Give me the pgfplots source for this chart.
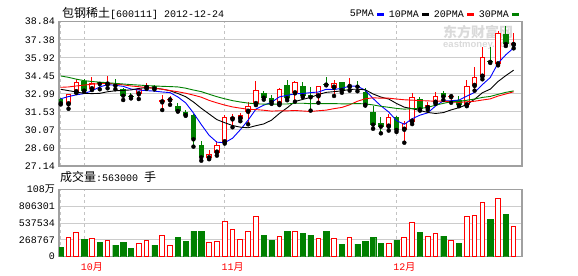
\documentclass[border=0pt]{standalone}
\usepackage{fontspec}
\setmainfont{Liberation Mono}
\newfontfamily\cjk{Noto Sans CJK SC}
\newfontfamily\wmfont{Liberation Sans}
\usepackage{pgfplots}
\usepackage{pgfplotstable}
\pgfplotsset{compat=1.18}
\definecolor{kgreen}{RGB}{0,128,0}
\definecolor{framec}{RGB}{160,160,160}
\definecolor{gridc}{RGB}{204,204,204}
\definecolor{dashc}{RGB}{195,195,195}
\definecolor{wm}{RGB}{218,218,218}
% rising days (red, hollow)
\pgfplotstableread{
i open high low close
1 32.14 32.98 31.78 32.95
2 33.12 34.22 33.06 33.93
4 33.36 34.33 33.30 33.84
6 33.74 34.44 33.44 33.89
10 32.95 33.45 32.57 33.36
11 33.46 33.84 33.40 33.65
13 32.30 32.89 31.68 32.49
14 32.46 32.82 32.10 32.51
19 27.76 28.44 27.69 28.11
20 28.22 29.17 27.98 28.82
21 29.06 31.27 28.96 31.09
22 30.92 31.35 30.28 31.11
23 30.97 31.46 30.77 31.25
24 31.53 32.33 30.52 32.02
25 32.16 34.05 32.08 33.28
28 32.16 33.45 32.08 33.36
30 33.03 34.04 32.36 33.95
33 32.79 33.65 32.27 33.61
35 33.49 34.11 32.82 33.84
37 33.55 34.25 33.25 33.60
42 30.33 31.33 30.01 31.11
44 30.08 30.82 29.03 30.65
45 30.73 33.03 30.54 32.71
47 31.82 32.36 31.69 32.08
48 32.27 33.17 32.18 32.79
50 32.72 32.98 32.27 32.77
52 32.06 34.11 31.99 33.63
53 33.63 35.19 33.25 34.33
54 34.38 36.75 34.17 35.96
56 35.38 38.11 35.30 37.90
58 36.95 37.90 36.68 37.09
}\uptab
% falling days (green, filled)
\pgfplotstableread{
i open high low close
0 32.54 32.62 32.13 32.22
3 34.06 34.18 33.16 33.25
5 33.93 33.96 33.36 33.79
7 33.79 34.19 33.36 33.65
8 33.36 33.45 32.49 32.84
9 32.82 33.06 32.62 32.77
12 33.65 33.74 33.35 33.43
15 32.01 32.27 31.55 31.60
16 31.52 31.69 31.21 31.27
17 31.27 31.35 28.71 29.30
18 28.82 29.17 27.57 27.84
26 33.06 33.26 32.52 32.68
27 32.65 32.89 32.18 32.33
29 33.70 34.11 32.47 32.63
31 33.63 33.95 32.72 32.82
32 32.89 33.57 31.63 32.71
34 33.79 34.38 33.68 33.74
36 33.95 33.99 33.08 33.30
38 33.65 34.04 33.20 33.57
39 33.17 33.44 32.04 32.11
40 31.52 32.01 30.16 30.49
41 30.63 31.14 29.79 30.33
43 31.09 31.16 29.90 30.06
46 32.60 32.76 31.63 31.73
49 33.08 33.25 32.49 32.76
51 32.49 32.82 31.99 32.06
55 35.67 36.75 35.50 35.58
57 37.84 38.49 36.87 37.03
}\dntab
\pgfplotsset{
  kpanel/.style={
    scale only axis, width=463bp,
    xmin=-0.22, xmax=59.07,
    axis line style={draw=framec, line width=1.4bp},
    tick style={draw=none},
    xmajorgrids, ymajorgrids,
    x grid style={draw=dashc, line width=0.9bp, dash pattern=on 3bp off 3bp},
    y grid style={draw=gridc, line width=0.9bp},
    yticklabel style={anchor=east, inner sep=0pt, xshift=-4bp, font=\fontsize{10bp}{10bp}\selectfont},
  },
  eb/.style={only marks, mark=none, forget plot,
    error bars/.cd, y dir=plus, y explicit, error mark=none,
    error bar style={#1}},
}
\begin{document}
\begin{tikzpicture}
\path[use as bounding box] (0,0) rectangle (578bp,276bp);
% watermark
\node[text=wm, anchor=west, inner sep=0pt, font=\cjk\bfseries\fontsize{14bp}{14bp}\selectfont] at (443bp,243.5bp) {东方财富网};
\node[text=wm, anchor=west, inner sep=0pt, font=\wmfont\bfseries\fontsize{9.5bp}{10bp}\selectfont] at (443bp,230.5bp) {eastmoney.com};
% titles
\node[anchor=west, inner sep=0pt] at (62bp,263bp) {{\cjk\fontsize{12bp}{12bp}\selectfont 包钢稀土}{\fontsize{10bp}{12bp}\selectfont [600111] 2012-12-24}};
\node[anchor=west, inner sep=0pt] at (60bp,99bp) {{\cjk\fontsize{12bp}{12bp}\selectfont 成交量}{\fontsize{10bp}{12bp}\selectfont :563000 }{\cjk\fontsize{12bp}{12bp}\selectfont 手}};

\begin{axis}[kpanel,
  at={(59bp,110bp)}, anchor=south west, height=144.3bp,
  ymin=27.14, ymax=38.84,
  ytick={27.14,28.60,30.07,31.53,32.99,34.45,35.92,37.38,38.84},
  yticklabels={27.14,28.60,30.07,31.53,32.99,34.45,35.92,37.38,38.84},
  xtick={0,3,21,43}, xticklabels={},
  legend style={at={(1,1)}, anchor=south east, draw=none, fill=none, inner sep=0pt,
    font=\fontsize{10bp}{12bp}\selectfont, yshift=1bp, xshift=-1bp,
    /tikz/every odd column/.append style={column sep=0bp},
    /tikz/every even column/.append style={column sep=1bp}},
  legend columns=4,
  legend plot pos=right,
  legend image code/.code={\draw[line width=3bp] (0bp,0bp) -- (7bp,0bp);},
]
% wicks
\addplot[eb={draw=red, line width=1bp}] table[x=i, y=low, y error plus expr={\thisrow{high}-\thisrow{low}}] {\uptab};
\addplot[eb={draw=kgreen, line width=1bp}] table[x=i, y=low, y error plus expr={\thisrow{high}-\thisrow{low}}] {\dntab};
% bodies
\addplot[eb={draw=kgreen, line width=5.5bp}] table[x=i, y=close, y error plus expr={max(\thisrow{open}-\thisrow{close},0.085)}] {\dntab};
\addplot[eb={draw=red, line width=5.5bp}] table[x=i, y=open, y error plus expr={max(\thisrow{close}-\thisrow{open},0.085)}] {\uptab};
\addplot[eb={draw=white, line width=3.5bp}] table[x=i, y expr={\thisrow{open}+0.085}, y error plus expr={max(\thisrow{close}-\thisrow{open}-0.17,0)}] {\uptab};
% moving averages
\addplot[blue, line width=0.9bp] coordinates {(0,32.59)(1,32.77)(2,32.91)(3,33.01)(4,33.24)(5,33.55)(6,33.74)(7,33.68)(8,33.60)(9,33.38)(10,33.30)(11,33.25)(12,33.21)(13,33.14)(14,33.09)(15,32.74)(16,32.26)(17,31.44)(18,30.50)(19,29.63)(20,29.07)(21,29.03)(22,29.39)(23,30.08)(24,30.86)(25,31.75)(26,32.07)(27,32.31)(28,32.74)(29,32.87)(30,32.99)(31,33.02)(32,33.09)(33,33.14)(34,33.36)(35,33.34)(36,33.44)(37,33.62)(38,33.61)(39,33.28)(40,32.61)(41,32.02)(42,31.52)(43,30.82)(44,30.52)(45,30.97)(46,31.26)(47,31.45)(48,32.00)(49,32.42)(50,32.43)(51,32.49)(52,32.80)(53,33.11)(54,33.74)(55,34.31)(56,35.48)(57,36.16)(58,36.71)};
\addlegendentry{5PMA}
\addplot[black, line width=0.9bp] coordinates {(0,33.36)(1,33.25)(2,33.14)(3,33.03)(4,33.01)(5,33.03)(6,33.16)(7,33.24)(8,33.27)(9,33.31)(10,33.43)(11,33.50)(12,33.45)(13,33.37)(14,33.24)(15,33.02)(16,32.76)(17,32.33)(18,31.82)(19,31.36)(20,30.90)(21,30.65)(22,30.42)(23,30.29)(24,30.24)(25,30.41)(26,30.55)(27,30.86)(28,31.40)(29,31.86)(30,32.37)(31,32.54)(32,32.70)(33,32.94)(34,33.11)(35,33.17)(36,33.23)(37,33.35)(38,33.37)(39,33.32)(40,32.98)(41,32.73)(42,32.57)(43,32.21)(44,31.91)(45,31.79)(46,31.64)(47,31.48)(48,31.40)(49,31.47)(50,31.69)(51,31.87)(52,32.12)(53,32.55)(54,33.08)(55,33.37)(56,33.99)(57,34.47)(58,34.91)};
\addlegendentry{10PMA}
\addplot[red, line width=0.9bp] coordinates {(0,33.52)(1,33.55)(2,33.63)(3,33.70)(4,33.77)(5,33.82)(6,33.84)(7,33.79)(8,33.72)(9,33.63)(10,33.57)(11,33.50)(12,33.44)(13,33.37)(14,33.26)(15,33.16)(16,33.04)(17,32.89)(18,32.72)(19,32.46)(20,32.26)(21,32.08)(22,31.93)(23,31.83)(24,31.74)(25,31.71)(26,31.66)(27,31.59)(28,31.62)(29,31.61)(30,31.64)(31,31.60)(32,31.56)(33,31.62)(34,31.67)(35,31.79)(36,31.89)(37,32.10)(38,32.39)(39,32.59)(40,32.67)(41,32.64)(42,32.64)(43,32.57)(44,32.51)(45,32.48)(46,32.44)(47,32.42)(48,32.39)(49,32.40)(50,32.34)(51,32.30)(52,32.35)(53,32.39)(54,32.49)(55,32.58)(56,32.81)(57,32.98)(58,33.16)};
\addlegendentry{20PMA}
\addplot[kgreen, line width=0.9bp] coordinates {(0,34.44)(1,34.33)(2,34.18)(3,34.06)(4,33.99)(5,33.94)(6,33.89)(7,33.84)(8,33.79)(9,33.74)(10,33.70)(11,33.66)(12,33.63)(13,33.60)(14,33.58)(15,33.55)(16,33.45)(17,33.30)(18,33.17)(19,32.96)(20,32.76)(21,32.59)(22,32.44)(23,32.33)(24,32.24)(25,32.18)(26,32.16)(27,32.16)(28,32.16)(29,32.17)(30,32.23)(31,32.23)(32,32.19)(33,32.20)(34,32.20)(35,32.20)(36,32.18)(37,32.18)(38,32.20)(39,32.18)(40,32.09)(41,31.98)(42,31.90)(43,31.81)(44,31.75)(45,31.79)(46,31.80)(47,31.90)(48,32.07)(49,32.22)(50,32.35)(51,32.38)(52,32.47)(53,32.57)(54,32.70)(55,32.78)(56,32.95)(57,33.11)(58,33.23)};
\addlegendentry{30PMA}
\end{axis}

\begin{axis}[kpanel,
  at={(59bp,19.3bp)}, anchor=south west, height=67.4bp,
  ymin=0, ymax=1075068, scaled y ticks=false,
  ytick={0,268767,537534,806301,1075068},
  yticklabels={0,268767,537534,806301,{108{\cjk 万}}},
  xtick={0,3,21,43},
  xticklabels={{},{10{\cjk 月}},{11{\cjk 月}},{12{\cjk 月}}},
  xticklabel style={text=red, anchor=center, inner sep=0pt, xshift=7.8bp, yshift=-10.5bp, font=\fontsize{10bp}{10bp}\selectfont},
]
\addplot[ybar, bar width=0.6, bar shift=0pt, draw=red, fill=white, line width=1bp] coordinates {(1,308000)(2,388000)(4,292000)(6,261000)(10,213000)(11,261000)(13,340000)(14,181000)(19,229000)(20,245000)(21,564000)(22,436000)(23,276000)(24,404000)(25,643000)(28,324000)(30,404000)(33,298000)(35,298000)(37,308000)(42,213000)(44,308000)(45,548000)(47,324000)(48,372000)(50,261000)(52,643000)(53,659000)(54,867000)(56,930000)(58,484000)};
\addplot[ybar, bar width=0.68, bar shift=0pt, draw=kgreen, fill=kgreen, line width=0.4bp] coordinates {(0,154000)(3,282000)(5,234000)(7,186000)(8,234000)(9,138000)(12,186000)(15,314000)(16,250000)(17,409000)(18,409000)(26,346000)(27,266000)(29,409000)(31,378000)(32,346000)(34,409000)(36,202000)(38,202000)(39,250000)(40,314000)(41,218000)(43,266000)(46,393000)(49,330000)(51,218000)(55,601000)(57,681000)};
\end{axis}
\end{tikzpicture}
\end{document}
